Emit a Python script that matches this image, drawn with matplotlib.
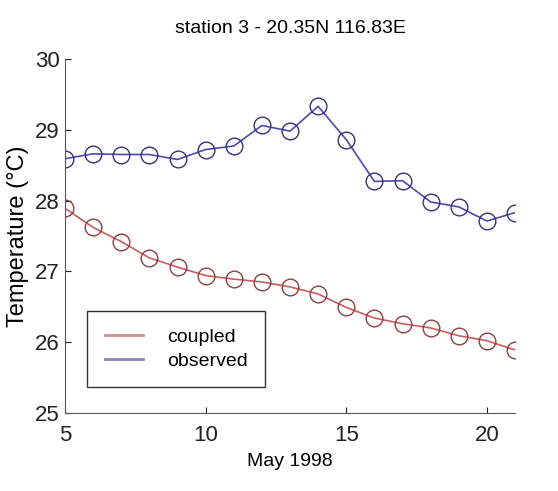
import matplotlib
matplotlib.use("Agg")
import matplotlib.pyplot as plt

# May 1998 days
days = list(range(5, 22))

# station 3 temperatures (deg C)
observed = [28.59, 28.66, 28.65, 28.65, 28.58, 28.72, 28.77, 29.06, 28.98,
            29.33, 28.86, 28.27, 28.28, 27.98, 27.91, 27.71, 27.83]
coupled = [27.89, 27.62, 27.42, 27.19, 27.06, 26.94, 26.89, 26.85, 26.78,
           26.68, 26.49, 26.34, 26.26, 26.20, 26.09, 26.02, 25.89]

xticks = [5, 10, 15, 20]
yticks = [25, 26, 27, 28, 29, 30]

plt.rcParams['font.family'] = ['Liberation Sans Narrow', 'Liberation Sans', 'DejaVu Sans']

fig = plt.figure(figsize=(5.58, 4.91), dpi=100)
ax = fig.add_axes([0.1165, 0.159, 0.8065, 0.721])

red = '#d05a5a'
blue = '#4a4ab0'
ax.plot(days, coupled, '-o', color=red, lw=1.2, ms=12, mfc='none',
        mec='#8a4040', mew=1.0, label='coupled')
ax.plot(days, observed, '-o', color=blue, lw=1.2, ms=12, mfc='none',
        mec='#343478', mew=1.0, label='observed')

ax.set_xlim(5, 21)
ax.set_ylim(25, 30)
ax.set_xticks(xticks)
ax.set_yticks(yticks)
ax.tick_params(direction='in', length=4, labelsize=16, colors='#222222', pad=4)
ax.tick_params(axis='x', pad=9)
for side in ('top', 'right'):
    ax.spines[side].set_visible(False)
for side in ('left', 'bottom'):
    ax.spines[side].set_color('#555555')

ax.set_xlabel('May 1998', fontsize=14, labelpad=5)
ax.set_ylabel('Temperature (°C)', fontsize=17, labelpad=4)
ax.set_title('station 3 - 20.35N 116.83E', fontsize=14, pad=19)

leg = ax.legend(loc='lower left', bbox_to_anchor=(0.049, 0.073), fontsize=14,
                handlelength=2.0, handletextpad=1.2, borderpad=0.9,
                labelspacing=0.3, borderaxespad=0, fancybox=False, framealpha=1)
leg.get_frame().set_edgecolor('#333333')
for h, c in zip(leg.legend_handles, ('#c89090', '#8888b8')):
    h.set_marker('')
    h.set_color(c)
    h.set_linewidth(2)

fig.savefig('out.png', dpi=100)
